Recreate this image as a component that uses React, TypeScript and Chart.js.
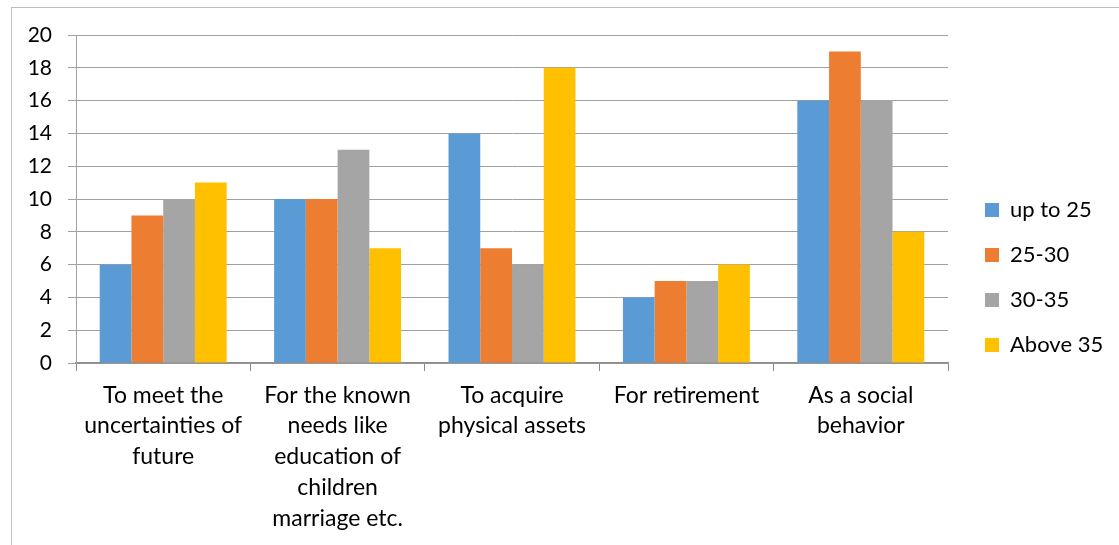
import React, { useEffect, useRef } from "react";
import { Chart, registerables } from "chart.js";

Chart.register(...registerables);

const categories: string[][] = [
  ["To meet the", "uncertainties of", "future"],
  ["For the known", "needs like", "education of", "children", "marriage etc."],
  ["To acquire", "physical assets"],
  ["For retirement"],
  ["As a social", "behavior"],
];

const seriesLabels = ["up to 25", "25-30", "30-35", "Above 35"];
const upTo25 = [6, 10, 14, 4, 16];
const age25to30 = [9, 10, 7, 5, 19];
const age30to35 = [10, 13, 6, 5, 16];
const above35 = [11, 7, 18, 6, 8];
const seriesColors = ["#5B9BD5", "#ED7D31", "#A5A5A5", "#FFC000"];

const FONT = "Lato, 'Open Sans', sans-serif";

export default function App() {
  const canvasRef = useRef<HTMLCanvasElement | null>(null);

  useEffect(() => {
    if (!canvasRef.current) return;
    const seriesValues = [upTo25, age25to30, age30to35, above35];

    const legendPlacer = {
      id: "legendPlacer",
      afterLayout(chart: any) {
        const lg = chart.legend;
        if (!lg) return;
        lg.left = 962;
        lg.right = 1119;
        lg.width = 157;
        lg.top = 0;
        lg.bottom = 555;
        lg.height = 555;
      },
    };

    const chart = new Chart(canvasRef.current, {
      type: "bar",
      data: {
        labels: categories,
        datasets: seriesLabels.map((label, i) => ({
          label,
          data: seriesValues[i],
          backgroundColor: seriesColors[i],
          borderWidth: 0,
          barPercentage: 1,
          categoryPercentage: 0.728,
        })),
      },
      options: {
        responsive: false,
        animation: false,
        layout: { padding: { left: 0, top: 35, right: 171, bottom: 0 } },
        plugins: {
          tooltip: { enabled: false },
          legend: {
            position: "chartArea" as any,
            align: "center",
            labels: {
              boxWidth: 14,
              boxHeight: 14,
              padding: 23,
              color: "#000000",
              font: { family: FONT, size: 22 },
            },
          },
        },
        scales: {
          x: {
            grid: {
              display: true,
              drawOnChartArea: false,
              drawTicks: true,
              tickLength: 8,
              color: "#8C8C8C",
              offset: true,
            },
            border: { display: true, color: "#8C8C8C", width: 1.5 },
            ticks: {
              color: "#000000",
              padding: 9,
              maxRotation: 0,
              autoSkip: false,
              font: { family: FONT, size: 23, lineHeight: "30.7px" },
            },
            afterFit(scale: any) {
              scale.height = 182;
            },
          },
          y: {
            min: 0,
            max: 20,
            ticks: {
              stepSize: 2,
              color: "#000000",
              padding: 16,
              font: { family: FONT, size: 21 },
            },
            grid: {
              color: "#A0A0A0",
              lineWidth: 1,
              drawTicks: true,
              tickLength: 8,
            },
            border: { display: true, color: "#A0A0A0", width: 1 },
            afterFit(scale: any) {
              scale.width = 76;
            },
          },
        },
      },
      plugins: [legendPlacer],
    });

    return () => chart.destroy();
  }, []);

  return (
    <div
      style={{
        position: "absolute",
        left: 0,
        top: 0,
        width: 1119,
        height: 545,
        overflow: "hidden",
        background: "#ffffff",
      }}
    >
      <div
        style={{
          position: "absolute",
          left: 11,
          top: 7,
          width: 1200,
          height: 600,
          border: "1px solid #BFBFBF",
          boxSizing: "border-box",
        }}
      />
      <canvas
        ref={canvasRef}
        width={1119}
        height={545}
        style={{ position: "absolute", left: 0, top: 0 }}
      />
    </div>
  );
}
